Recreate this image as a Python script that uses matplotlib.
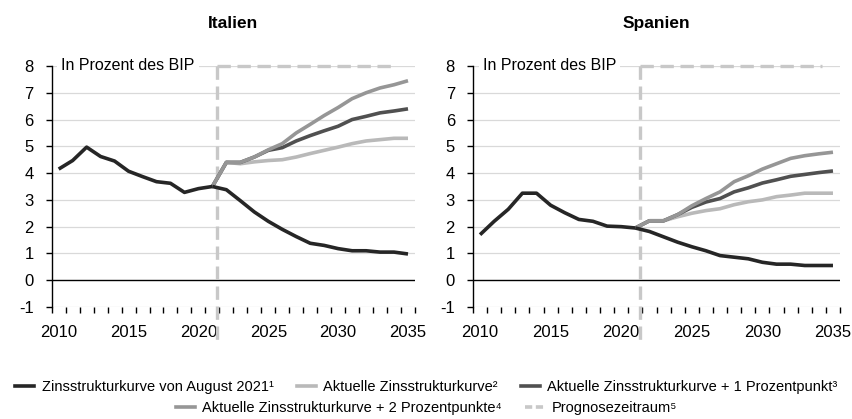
"""
Zinsausgaben Italien / Spanien - Nachbau der Abbildung
"""
import matplotlib
matplotlib.use("Agg")
import matplotlib.pyplot as plt
from matplotlib.lines import Line2D

plt.rcParams["font.family"] = ["Liberation Sans", "DejaVu Sans"]
plt.rcParams["axes.unicode_minus"] = False

# --- Daten -------------------------------------------------------------
hist_years = list(range(2010, 2022))
fc_years = list(range(2021, 2036))

it_hist = [4.15, 4.47, 4.97, 4.62, 4.45, 4.07, 3.87, 3.68, 3.62, 3.28, 3.42, 3.5]
it_aug21 = [3.5, 3.38, 2.97, 2.55, 2.2, 1.9, 1.63, 1.38, 1.3, 1.18, 1.1, 1.1, 1.05, 1.05, 0.98]
it_akt = [3.5, 4.4, 4.35, 4.42, 4.47, 4.5, 4.6, 4.73, 4.85, 4.97, 5.1, 5.2, 5.25, 5.3, 5.3]
it_p1 = [3.5, 4.4, 4.4, 4.6, 4.85, 4.95, 5.2, 5.4, 5.58, 5.75, 6.0, 6.12, 6.25, 6.32, 6.4]
it_p2 = [3.5, 4.4, 4.4, 4.6, 4.87, 5.1, 5.5, 5.82, 6.15, 6.45, 6.78, 7.0, 7.18, 7.3, 7.45]

es_hist = [1.7, 2.2, 2.65, 3.25, 3.25, 2.8, 2.52, 2.27, 2.2, 2.02, 2.0, 1.95]
es_aug21 = [1.95, 1.82, 1.62, 1.42, 1.25, 1.1, 0.92, 0.86, 0.8, 0.67, 0.6, 0.6, 0.55, 0.55, 0.55]
es_akt = [1.95, 2.22, 2.22, 2.37, 2.5, 2.6, 2.67, 2.82, 2.93, 3.0, 3.12, 3.18, 3.25, 3.25, 3.25]
es_p1 = [1.95, 2.22, 2.22, 2.45, 2.72, 2.92, 3.05, 3.3, 3.45, 3.63, 3.75, 3.88, 3.95, 4.02, 4.08]
es_p2 = [1.95, 2.22, 2.22, 2.45, 2.78, 3.05, 3.3, 3.68, 3.9, 4.15, 4.35, 4.55, 4.65, 4.72, 4.78]

panels = ["Italien", "Spanien"]
prognose_start = 2021.35
year_labels = [2010, 2015, 2020, 2025, 2030, 2035]

labels = [
    "Zinsstrukturkurve von August 2021¹",
    "Aktuelle Zinsstrukturkurve²",
    "Aktuelle Zinsstrukturkurve + 1 Prozentpunkt³",
    "Aktuelle Zinsstrukturkurve + 2 Prozentpunkte⁴",
    "Prognosezeitraum⁵",
]

C_BLACK = "#262626"
C_LIGHT = "#b9b9b9"
C_DARK = "#505050"
C_MID = "#969696"
C_DASH = "#c8c8c8"
C_GRID = "#d9d9d9"
LW = 2.6

fig = plt.figure(figsize=(8.53, 4.19), dpi=100)
ax_it = fig.add_axes([0.0606, 0.2673, 0.4259, 0.5752])
ax_es = fig.add_axes([0.5545, 0.2673, 0.4303, 0.5752])

data = {
    "Italien": (it_hist, it_aug21, it_akt, it_p1, it_p2),
    "Spanien": (es_hist, es_aug21, es_akt, es_p1, es_p2),
}

for ax, name in zip([ax_it, ax_es], panels):
    hist, aug21, akt, p1, p2 = data[name]
    ax.set_xlim(2009.5, 2035.5)
    ax.set_ylim(-1, 8)

    for y in range(-1, 9):
        if y == 0:
            continue
        ax.axhline(y, color=C_GRID, lw=0.9, zorder=0)
    ax.axhline(0, color="black", lw=1.0, zorder=1)

    ax.plot(fc_years, akt, color=C_LIGHT, lw=LW, zorder=3, solid_capstyle="butt")
    ax.plot(fc_years, p1, color=C_DARK, lw=LW, zorder=4, solid_capstyle="butt")
    ax.plot(fc_years, p2, color=C_MID, lw=LW, zorder=5, solid_capstyle="butt")
    ax.plot(hist_years, hist, color=C_BLACK, lw=LW, zorder=6, solid_capstyle="butt")
    ax.plot(fc_years, aug21, color=C_BLACK, lw=LW, zorder=6, solid_capstyle="butt")

    # Prognosezeitraum
    ax.plot([prognose_start, prognose_start], [8, -2.25], color=C_DASH, lw=2.4,
            ls=(0, (4, 2)), clip_on=False, zorder=2)
    ax.plot([prognose_start, 2034.2], [8, 8], color=C_DASH, lw=2.4,
            ls=(0, (4, 2)), clip_on=False, zorder=2)

    ax.text(2010.2, 8, "In Prozent des BIP", fontsize=11.5, va="center", ha="left",
            zorder=7, bbox=dict(facecolor="white", edgecolor="none", pad=3))

    for s in ["top", "right", "bottom"]:
        ax.spines[s].set_visible(False)
    ax.spines["left"].set_linewidth(1.0)

    ax.set_yticks(range(-1, 9))
    ax.tick_params(axis="y", direction="out", length=4, width=1, pad=9, labelsize=12)
    ax.set_xticks(year_labels)
    ax.set_xticks([2009.5 + k for k in range(27)], minor=True)
    ax.tick_params(axis="x", which="major", length=0, pad=13, labelsize=12)
    ax.tick_params(axis="x", which="minor", direction="out", length=4, width=1)
    ax.set_title(name, fontsize=12.5, fontweight="bold", pad=27)

handles = [
    Line2D([], [], color=C_BLACK, lw=LW),
    Line2D([], [], color=C_LIGHT, lw=LW),
    Line2D([], [], color=C_DARK, lw=LW),
    Line2D([], [], color=C_MID, lw=LW),
    Line2D([], [], color=C_DASH, lw=LW, ls=(0, (2, 1))),
]

fig.legend(handles[:3], labels[:3], loc="center", bbox_to_anchor=(0.5, 1 - 387 / 419),
           ncol=3, frameon=False, fontsize=10.5, handlelength=1.3, handletextpad=0.5,
           columnspacing=1.6, borderpad=0, borderaxespad=0)
fig.legend(handles[3:], labels[3:], loc="center", bbox_to_anchor=(0.5, 1 - 408 / 419),
           ncol=2, frameon=False, fontsize=10.5, handlelength=1.3, handletextpad=0.5,
           columnspacing=1.6, borderpad=0, borderaxespad=0)

fig.savefig("out.png", dpi=100)
plt.close(fig)
